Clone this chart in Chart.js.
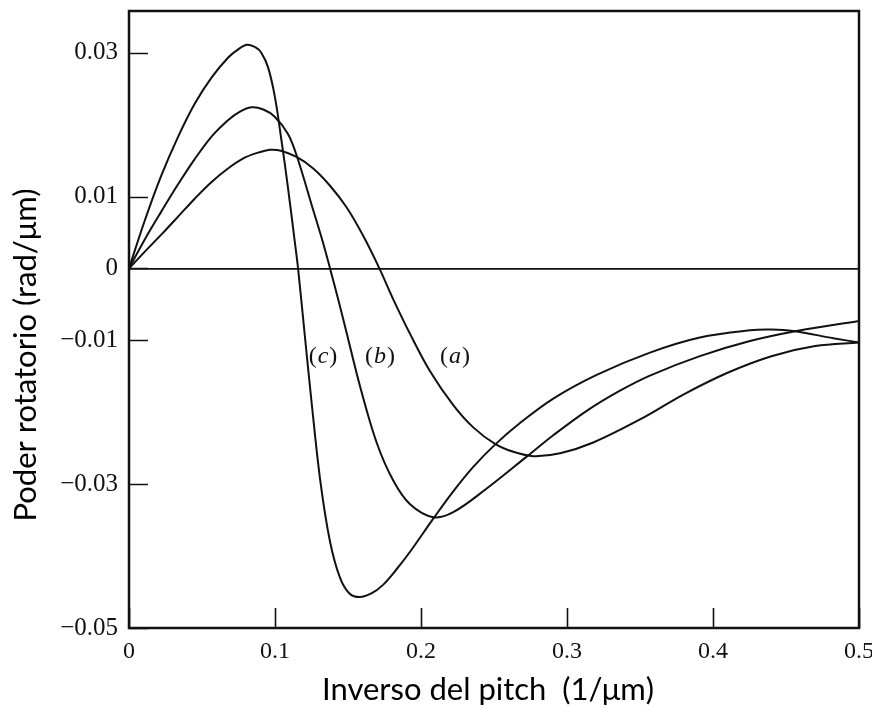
<!DOCTYPE html>
<html>
<head>
<meta charset="utf-8">
<script src="https://cdn.jsdelivr.net/npm/chart.js@4.4.1/dist/chart.umd.min.js"></script>
<style>
html, body { margin: 0; padding: 0; background: #fff; }
</style>
</head>
<body>
<canvas id="myChart" width="872" height="715"></canvas>
<script>
// curve (a)
const xA = [0, 0.0107, 0.0221, 0.0336, 0.045, 0.0564, 0.0678, 0.0792, 0.09, 0.0966, 0.1034, 0.1148, 0.1262, 0.1377, 0.149, 0.1605, 0.1715, 0.181, 0.1925, 0.2062, 0.2221, 0.2358, 0.2507, 0.2632, 0.277, 0.2953, 0.318, 0.35, 0.38, 0.41, 0.44, 0.47, 0.5];
const yA = [0, 0.0023, 0.0047, 0.0072, 0.0097, 0.0120, 0.0139, 0.0154, 0.0162, 0.0165, 0.0164, 0.0155, 0.0139, 0.0115, 0.0085, 0.0045, 0, -0.0043, -0.0091, -0.0143, -0.0190, -0.0221, -0.0244, -0.0255, -0.0261, -0.0257, -0.0242, -0.0210, -0.0175, -0.0145, -0.0122, -0.0108, -0.0103];
// curve (b)
const xB = [0, 0.0107, 0.0221, 0.0336, 0.045, 0.0564, 0.0678, 0.076, 0.0838, 0.092, 0.0998, 0.1089, 0.115, 0.1262, 0.133, 0.1377, 0.1434, 0.149, 0.158, 0.1696, 0.181, 0.1925, 0.2084, 0.2221, 0.245, 0.2728, 0.2906, 0.3135, 0.3363, 0.3568, 0.391, 0.4253, 0.4573, 0.5];
const yB = [0, 0.0040, 0.0079, 0.0117, 0.0152, 0.0183, 0.0206, 0.0218, 0.0224, 0.0221, 0.0211, 0.0187, 0.0156, 0.0081, 0.0035, 0, -0.0044, -0.0089, -0.0162, -0.0242, -0.0295, -0.0328, -0.0346, -0.0339, -0.0306, -0.0261, -0.0232, -0.0198, -0.0170, -0.0149, -0.0122, -0.0101, -0.0087, -0.0073];
// curve (c)
const xC = [0, 0.0107, 0.0221, 0.0336, 0.045, 0.0564, 0.0678, 0.075, 0.081, 0.087, 0.0906, 0.0952, 0.0998, 0.1043, 0.1089, 0.1135, 0.1158, 0.1205, 0.125, 0.131, 0.1377, 0.1445, 0.151, 0.158, 0.166, 0.174, 0.183, 0.1925, 0.2084, 0.2221, 0.2358, 0.2507, 0.2678, 0.2906, 0.3203, 0.3568, 0.391, 0.4253, 0.44, 0.455, 0.4824, 0.5];
const yC = [0, 0.0066, 0.0129, 0.0183, 0.0229, 0.0265, 0.0293, 0.0305, 0.0311, 0.0307, 0.0300, 0.0280, 0.0240, 0.0180, 0.0112, 0.0038, 0, -0.0095, -0.0185, -0.0295, -0.0380, -0.0430, -0.0452, -0.0457, -0.0452, -0.0440, -0.0419, -0.0394, -0.0348, -0.0310, -0.0276, -0.0245, -0.0215, -0.0181, -0.0148, -0.0117, -0.0096, -0.0086, -0.0085, -0.0087, -0.0097, -0.0103];

const xTicks = [0, 0.1, 0.2, 0.3, 0.4, 0.5];
const yTicks = [-0.05, -0.03, -0.01, 0, 0.01, 0.03];
const curveNames = ['c', 'b', 'a'];
const curveLabelX = [0.1329, 0.1719, 0.2233];
const curveLabelY = -0.0123;

const xTitle = 'Inverso del pitch  (1/\u03bcm)';
const yTitle = 'Poder rotatorio (rad/\u03bcm)';

function points(xs, ys) {
	return xs.map((x, i) => ({x: x, y: ys[i]}));
}

function curve(xs, ys) {
	return {
		data: points(xs, ys),
		borderColor: '#111',
		borderWidth: 2,
		pointRadius: 0,
		fill: false,
		tension: 0.35
	};
}

const serif = '"Liberation Serif", "Times New Roman", serif';
const sans = 'Lato, "Open Sans", sans-serif';

// frame, inward ticks, curve names and axis titles
const extras = {
	id: 'extras',
	afterDraw(chart) {
		const c = chart.ctx;
		const a = chart.chartArea;
		const sx = chart.scales.x;
		const sy = chart.scales.y;
		c.save();
		c.strokeStyle = '#111';
		c.lineWidth = 1.6;
		c.beginPath();
		yTicks.forEach(v => {
			const py = Math.round(sy.getPixelForValue(v)) + 0.5;
			c.moveTo(a.left, py);
			c.lineTo(a.left + 19, py);
		});
		xTicks.forEach(v => {
			const px = Math.round(sx.getPixelForValue(v)) + 0.5;
			c.moveTo(px, a.bottom);
			c.lineTo(px, a.bottom - 20);
		});
		c.stroke();

		c.lineWidth = 2.5;
		c.strokeRect(a.left, a.top, a.right - a.left, a.bottom - a.top);

		// (c) (b) (a)
		c.fillStyle = '#111';
		c.textBaseline = 'middle';
		c.textAlign = 'left';
		curveNames.forEach((n, i) => {
			const px = sx.getPixelForValue(curveLabelX[i]);
			const py = sy.getPixelForValue(curveLabelY);
			c.font = '24px ' + serif;
			const wp = c.measureText('(').width;
			const wq = c.measureText(')').width;
			c.font = 'italic 24px ' + serif;
			const wn = c.measureText(n).width;
			const x0 = px - (wp + wn + wq + 2) / 2;
			c.font = '24px ' + serif;
			c.fillText('(', x0, py);
			c.font = 'italic 24px ' + serif;
			c.fillText(n, x0 + wp + 1, py);
			c.font = '24px ' + serif;
			c.fillText(')', x0 + wp + wn + 2, py);
		});

		c.fillStyle = '#000';
		c.font = '31px ' + sans;
		c.textAlign = 'center';
		c.textBaseline = 'middle';
		c.fillText(xTitle, 488, 690);

		c.translate(36, 355);
		c.rotate(-Math.PI / 2);
		c.textBaseline = 'alphabetic';
		c.fillText(yTitle, 0, 0);
		c.restore();
	}
};

const ctx = document.getElementById('myChart');

new Chart(ctx, {
	type: 'line',
	data: {
		datasets: [curve(xA, yA), curve(xB, yB), curve(xC, yC)]
	},
	plugins: [extras],
	options: {
		responsive: false,
		animation: false,
		layout: {
			padding: {top: 11, right: 13, left: 0, bottom: 0}
		},
		plugins: {
			legend: {display: false},
			tooltip: {enabled: false}
		},
		scales: {
			x: {
				type: 'linear',
				min: 0,
				max: 0.5,
				afterBuildTicks: s => { s.ticks = xTicks.map(v => ({value: v})); },
				afterFit: s => { s.height = 87; s.paddingLeft = 0; s.paddingRight = 0; },
				ticks: {
					padding: 9,
					maxRotation: 0,
					autoSkip: false,
					color: '#111',
					font: {family: serif, size: 24},
					callback: v => v === 0 ? '0' : v.toFixed(1)
				},
				grid: {display: false, drawTicks: false},
				border: {display: false}
			},
			y: {
				type: 'linear',
				min: -0.05,
				max: 0.0358,
				afterBuildTicks: s => { s.ticks = yTicks.map(v => ({value: v})); },
				afterFit: s => { s.width = 129; s.paddingTop = 0; s.paddingBottom = 0; },
				ticks: {
					padding: 11,
					autoSkip: false,
					color: '#111',
					font: {family: serif, size: 25},
					callback: v => v === 0 ? '0' : (v < 0 ? '\u2212' : '') + Math.abs(v).toFixed(2)
				},
				grid: {
					drawTicks: false,
					lineWidth: 1.8,
					color: c => (c.tick && c.tick.value === 0) ? '#111' : 'rgba(0,0,0,0)'
				},
				border: {display: false}
			}
		}
	}
});
</script>
</body>
</html>
